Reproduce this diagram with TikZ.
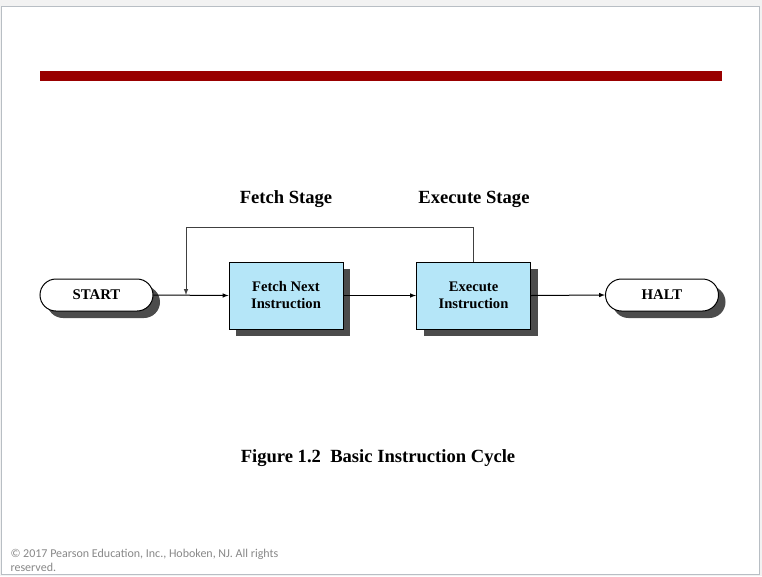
\documentclass[tikz,border=0pt]{standalone}
\usepackage{fontspec}
\setmainfont{Liberation Serif}
\newfontfamily\notefont{Carlito}
\usetikzlibrary{shadows}
\definecolor{barred}{HTML}{990000}
\definecolor{boxblue}{HTML}{B5E6F8}
\definecolor{framegray}{HTML}{B8BEC4}
\definecolor{notegray}{HTML}{888888}

\begin{document}
\begin{tikzpicture}[x=1pt, y=-1pt, line width=1pt,
	shade/.style = {drop shadow={shadow xshift=7pt, shadow yshift=-7pt, fill=black!70, opacity=1}},
	term/.style = {draw, fill=white, rounded corners=16pt, minimum width=113pt, minimum height=32pt, inner sep=0pt, font=\fontsize{14.8}{17}\selectfont\bfseries, shade},
	stagebox/.style = {draw, fill=boxblue, minimum width=114pt, minimum height=67pt, inner sep=0pt, align=center, font=\fontsize{14.6}{17}\selectfont\bfseries, shade},
	flow/.style = {-latex}]
		\useasboundingbox (0,0) rectangle (762,576);
		\fill[black!5] (0,0) rectangle (762,576);
		\draw[framegray, fill=white] (1,6) rectangle (759.5,574.5);
		\fill[barred] (40,71) rectangle (722,81);

		% terminals and stages
		\node[term] (start) at (96.5,295) {START};
		\node[stagebox] (fetch) at (286,295.5) {Fetch Next\\Instruction};
		\node[stagebox] (exec) at (473.5,295.5) {Execute\\Instruction};
		\node[term] (halt) at (662,295) {HALT};
		\coordinate (join) at (186,295);

		% labels
		\node[font=\fontsize{18.6}{22}\selectfont\bfseries] (fetchlbl) at (286,199) {Fetch Stage};
		\node[font=\fontsize{18.6}{22}\selectfont\bfseries] (execlbl) at (474,199) {Execute Stage};
		\node[font=\fontsize{18.6}{22}\selectfont\bfseries] (caption) at (378,458) {Figure 1.2\ \ Basic Instruction Cycle};
		\node[anchor=north west, align=left, text=notegray, inner sep=0pt, font=\notefont\fontsize{12}{14}\selectfont] (note) at (10,548.5) {\textcopyright{} 2017 Pearson Education, Inc., Hoboken, NJ. All rights\\reserved.};

		% connectors
		\draw[flow] (start.east) -- (fetch.west);
		\draw[flow] (fetch.east) -- (exec.west);
		\draw[flow] (exec.east) -- (halt.west);
		\draw[flow, black!75] (exec.north) -- ++(0,-34) -| (join);
\end{tikzpicture}
\end{document}
